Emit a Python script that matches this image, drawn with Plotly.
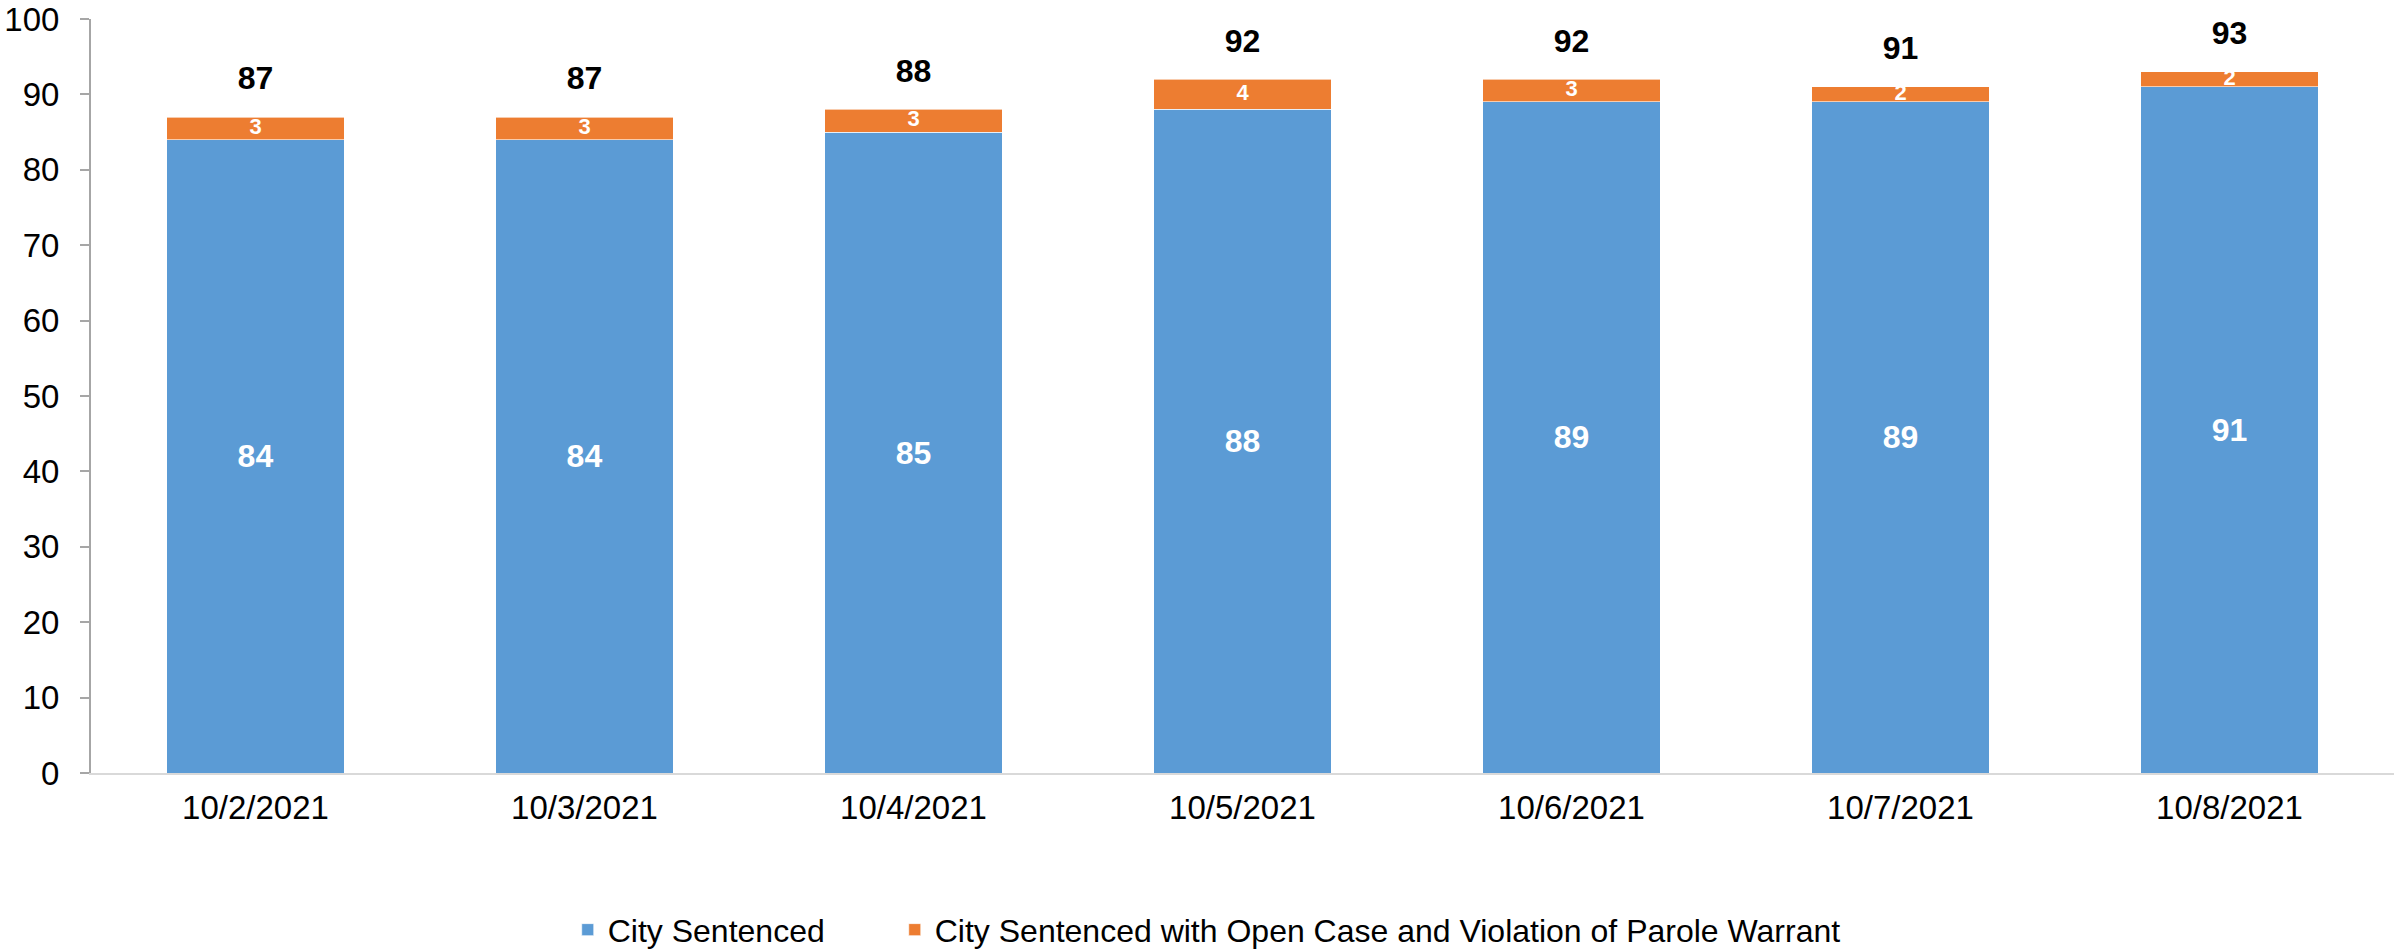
import plotly.graph_objects as go

dates = ["10/2/2021", "10/3/2021", "10/4/2021", "10/5/2021", "10/6/2021", "10/7/2021", "10/8/2021"]
city_sentenced = [84, 84, 85, 88, 89, 89, 91]
open_case_parole = [3, 3, 3, 4, 3, 2, 2]
totals = [a + b for a, b in zip(city_sentenced, open_case_parole)]
orange_mid = [a + b / 2 for a, b in zip(city_sentenced, open_case_parole)]

FONT = "Liberation Sans, Arial, sans-serif"
BLUE = "#5b9bd5"
ORANGE = "#ed7d31"

fig = go.Figure()
fig.add_trace(go.Bar(
    x=dates, y=city_sentenced, name="City Sentenced", legend="legend",
    marker=dict(color=BLUE, line=dict(color="rgba(255,255,255,0.6)", width=1)),
    text=city_sentenced, textposition="inside", insidetextanchor="middle",
    textfont=dict(family=FONT, size=32, color="white", weight="bold"),
    constraintext="none", hoverinfo="skip",
))
fig.add_trace(go.Bar(
    x=dates, y=open_case_parole, legend="legend2",
    name="City Sentenced with Open Case and Violation of Parole Warrant",
    marker=dict(color=ORANGE, line=dict(color="rgba(255,255,255,0.6)", width=1)),
    hoverinfo="skip",
))
fig.add_trace(go.Scatter(
    x=dates, y=orange_mid, mode="text", text=open_case_parole,
    textposition="middle center",
    textfont=dict(family=FONT, size=22, color="white", weight="bold"),
    showlegend=False, hoverinfo="skip", cliponaxis=False,
))
fig.add_trace(go.Scatter(
    x=dates, y=totals, mode="markers+text", text=totals,
    textposition="top center",
    marker=dict(size=30, opacity=0),
    textfont=dict(family=FONT, size=32, color="black", weight="bold"),
    showlegend=False, hoverinfo="skip", cliponaxis=False,
))

leg_common = dict(orientation="h", yanchor="middle", y=-0.208, xanchor="left",
                  font=dict(family=FONT, size=32), bgcolor="rgba(0,0,0,0)")

fig.update_layout(
    barmode="stack",
    bargap=0.46,
    width=2402, height=949,
    margin=dict(l=91, r=8, t=19, b=176, autoexpand=False),
    plot_bgcolor="white", paper_bgcolor="white",
    font=dict(family=FONT, size=33, color="black"),
    legend=dict(x=0.207, **leg_common),
    legend2=dict(x=0.349, **leg_common),
    xaxis=dict(showline=True, linecolor="#d9d9d9", linewidth=2, ticks="",
               tickfont=dict(family=FONT, size=33), ticklabelstandoff=4,
               showgrid=False, automargin=False, ticklabeloverflow="allow"),
    yaxis=dict(range=[0, 100], dtick=10, showline=True, linecolor="#a6a6a6", linewidth=2,
               ticks="outside", ticklen=9, tickcolor="#a6a6a6", tickwidth=2,
               tickfont=dict(family=FONT, size=33), showgrid=False, zeroline=False,
               ticklabelstandoff=14, automargin=False, ticklabeloverflow="allow"),
)

fig.write_html(
    "out.html",
    config={"displayModeBar": False},
    post_script="document.body.style.margin='0';document.body.style.overflow='hidden';",
)
